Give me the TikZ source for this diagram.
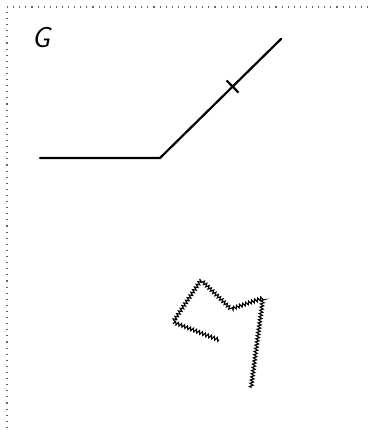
\documentclass[tikz,border=0pt]{standalone}
\usepackage{tikz}
\usetikzlibrary{calc,decorations.pathmorphing}

\begin{document}
\begin{tikzpicture}[
    x=1pt, y=-1pt,
    frame/.style={gray!80!black, line width=1.1pt, dash pattern=on 1.1pt off 5pt},
    edge/.style={line width=2.2pt, line cap=round},
    tickmark/.style={line width=2.2pt},
    wiggly/.style={line width=1.1pt, decorate, decoration={zigzag, amplitude=1.7pt, segment length=3.2pt}},
    lbl/.style={font=\fontsize{29}{34}\selectfont\sffamily\itshape, inner sep=0pt}
]
    \useasboundingbox (0,0) rectangle (368,430);

    % Frame
    \coordinate (tr) at (368,7);
    \coordinate (tl) at (7,7);
    \coordinate (bl) at (7,430);
    \draw[frame] (tr) -- (tl) -- (bl);

    % Label
    \node[lbl] (glabel) at (41,38) {G};

    % Bent line with tick
    \coordinate (a) at (40,158);
    \coordinate (b) at (160,158);
    \coordinate (c) at (281,39);
    \draw[edge] (a) -- (b) -- (c);
    \coordinate (t) at ($(b)!0.6!(c)$);
    \draw[tickmark] ($(t)!8.5pt!90:(c)$) -- ($(t)!8.5pt!-90:(c)$);

    % Zigzag path
    \coordinate (z1) at (219,340);
    \coordinate (z2) at (173,322);
    \coordinate (z3) at (201,280);
    \coordinate (z4) at (231,309);
    \coordinate (z5) at (263,298);
    \coordinate (z6) at (251,388);
    \draw[wiggly] (z1) -- (z2) -- (z3) -- (z4) -- (z5) -- (z6);
\end{tikzpicture}
\end{document}
